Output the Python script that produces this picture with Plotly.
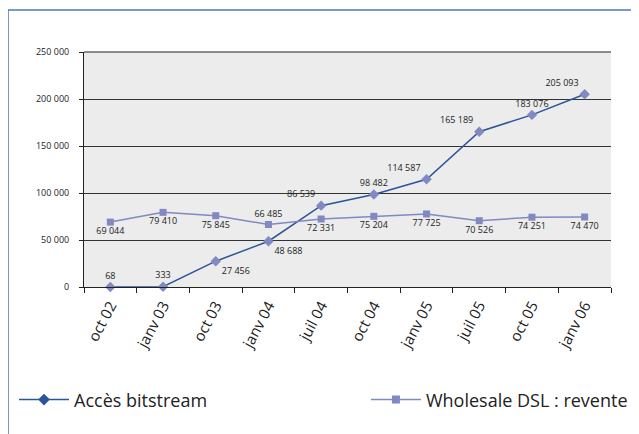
import plotly.graph_objects as go

categories = ["oct 02", "janv 03", "oct 03", "janv 04", "juil 04", "oct 04",
              "janv 05", "juil 05", "oct 05", "janv 06"]
bitstream = [68, 333, 27456, 48688, 86539, 98482, 114587, 165189, 183076, 205093]
wholesale = [69044, 79410, 75845, 66485, 72331, 75204, 77725, 70526, 74251, 74470]
y_ticks = [0, 50000, 100000, 150000, 200000, 250000]
y_tick_labels = ["0", "50 000", "100 000", "150 000", "200 000", "250 000"]

def fmt(v):
    return f"{v:,}".replace(",", " ")

FONT = "Open Sans"
dark = "#2a5599"
light = "#8089c1"

bit_pos = ["top center", "top center", "bottom right", "bottom right", "top left",
           "top center", "top left", "top left", "top center", "top left"]
whs_pos = ["bottom center"] * 10
whs_pos[3] = "top center"

fig = go.Figure()
fig.add_trace(go.Scatter(
    x=categories, y=bitstream, mode="lines+markers+text",
    line=dict(color=dark, width=1.5),
    marker=dict(symbol="diamond", size=8, color=light),
    text=[fmt(v) for v in bitstream], textposition=bit_pos,
    textfont=dict(size=9, color="#222", family=FONT),
    showlegend=False, cliponaxis=False))
fig.add_trace(go.Scatter(
    x=categories, y=wholesale, mode="lines+markers+text",
    line=dict(color=light, width=1.5),
    marker=dict(symbol="square", size=7, color=light),
    text=[fmt(v) for v in wholesale], textposition=whs_pos,
    textfont=dict(size=9, color="#222", family=FONT),
    showlegend=False, cliponaxis=False))
# legend entries
fig.add_trace(go.Scatter(
    x=[None], y=[None], mode="lines+markers", name="Accès bitstream",
    line=dict(color=dark, width=1.5),
    marker=dict(symbol="diamond", size=9, color=dark), legend="legend"))
fig.add_trace(go.Scatter(
    x=[None], y=[None], mode="lines+markers", name="Wholesale DSL : revente",
    line=dict(color=light, width=1.5),
    marker=dict(symbol="square", size=8, color=light), legend="legend2"))

fig.update_layout(
    width=639, height=434,
    margin=dict(l=76, r=36, t=44, b=155, autoexpand=False),
    paper_bgcolor="white", plot_bgcolor="#ececec",
    font=dict(family=FONT, color="#222"),
    legend=dict(xref="container", yref="container", x=0.0094, y=0.097,
                xanchor="left", yanchor="middle",
                font=dict(size=18, family=FONT, color="#222"),
                bgcolor="rgba(0,0,0,0)", itemwidth=50),
    legend2=dict(xref="container", yref="container", x=0.978, y=0.097,
                 xanchor="right", yanchor="middle",
                 font=dict(size=18, family=FONT, color="#222"),
                 bgcolor="rgba(0,0,0,0)", itemwidth=50),
    xaxis=dict(type="category", tickangle=-62, tickson="boundaries",
               ticks="outside", ticklen=5, tickcolor="#222", automargin=False,
               ticklabelstandoff=3,
               showgrid=False, showline=True, linecolor="#222", linewidth=1,
               tickfont=dict(size=15, family=FONT, color="#222"),
               range=[-0.5, 9.5]),
    yaxis=dict(range=[0, 250000], tickvals=y_ticks, ticktext=y_tick_labels,
               ticks="outside", ticklen=4, tickcolor="#222", automargin=False,
               ticklabelstandoff=8,
               showgrid=True, gridcolor="#333", gridwidth=1.2,
               showline=True, linecolor="#222", linewidth=1, zeroline=False,
               tickfont=dict(size=9, family=FONT, color="#222")),
    shapes=[
        dict(type="line", xref="paper", yref="paper", x0=-0.1442, x1=1.2,
             y0=1.1787, y1=1.1787, line=dict(color="#4a78b8", width=1.5)),
        dict(type="line", xref="paper", yref="paper", x0=-0.1442, x1=-0.1442,
             y0=1.1787, y1=-0.7, line=dict(color="#4a78b8", width=1.5)),
        dict(type="line", xref="paper", yref="paper", x0=0, x1=1,
             y0=1, y1=1, line=dict(color="#222", width=1.2)),
    ],
)

fig.write_html("out.html")
